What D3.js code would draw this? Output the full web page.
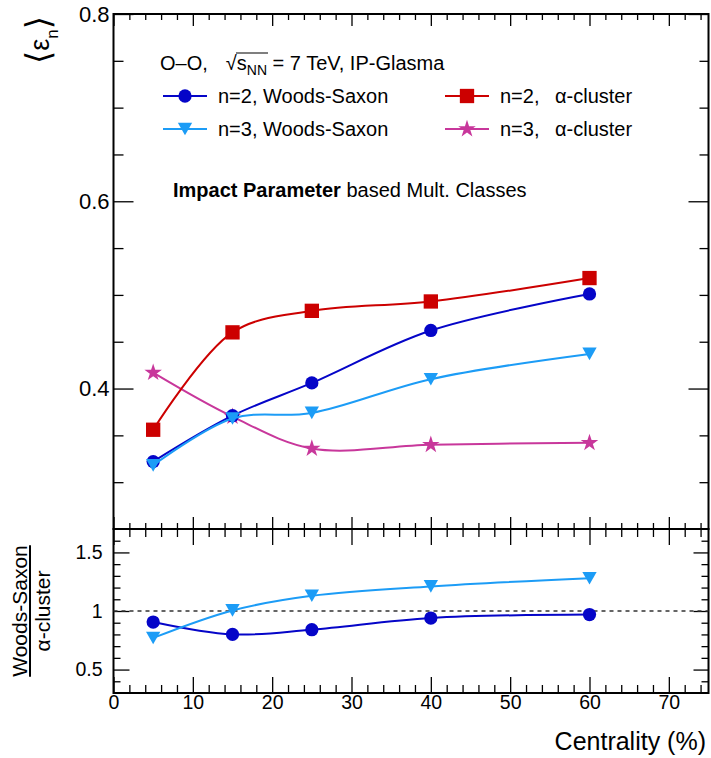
<!DOCTYPE html>
<html><head><meta charset="utf-8">
<script src="https://cdn.jsdelivr.net/npm/d3@7"></script>
<style>
body{margin:0;background:#fff}
svg{display:block}
text{font-family:"Liberation Sans",Arial,Helvetica,sans-serif;fill:#000}
</style>
</head><body>
<svg id="c" width="711" height="758"></svg>
<script>
// ---------------- data ----------------
const centrality      = [5, 15, 25, 40, 60];
const eps2WoodsSaxon  = [0.322, 0.371, 0.406, 0.462, 0.501];
const eps3WoodsSaxon  = [0.318, 0.368, 0.374, 0.410, 0.437];
const eps2Alpha       = [0.356, 0.460, 0.483, 0.493, 0.518];
const eps3Alpha       = [0.417, 0.370, 0.336, 0.340, 0.342];
const ratioN2         = [0.906, 0.800, 0.840, 0.940, 0.970];
const ratioN3         = [0.770, 1.005, 1.130, 1.210, 1.280];

const xMajorTicks     = [0, 10, 20, 30, 40, 50, 60, 70];
const xMinorTicks     = d3.range(2, 75, 2).filter(v => v % 10 !== 0);
const yTopMajorTicks  = [0.4, 0.6, 0.8];
const yTopMinorTicks  = [0.3, 0.35, 0.45, 0.5, 0.55, 0.65, 0.7, 0.75];
const yRatMajorTicks  = [0.5, 1, 1.5];
const yRatMajorLabels = ["0.5", "1", "1.5"];
const yRatMinorTicks  = [0.4, 0.6, 0.7, 0.8, 0.9, 1.1, 1.2, 1.3, 1.4, 1.6];

const legendTitle     = ["O–O,", "√", "s", "NN", " = 7 TeV, IP-Glasma"];
const seriesLabels    = ["n=2, Woods-Saxon", "n=3, Woods-Saxon", "n=2,", "n=3,"];
const clusterLabel    = "α-cluster";

// ---------------- layout ----------------
const svg = d3.select("#c");
const X0 = 113.5, X1 = 708.5, Y0 = 14, YM = 529, Y1 = 693;
const x    = d3.scaleLinear().domain([0, 75]).range([X0, X1]);
const yTop = d3.scaleLinear().domain([0.25, 0.8]).range([YM, Y0]);
const yRat = d3.scaleLinear().domain([0.3, 1.7]).range([Y1, YM]);

const COL = {blue: "#0505c8", red: "#cc0000", azure: "#1c9cf6", magenta: "#c8379b"};

// marker shapes
const downTriangle = {draw(ctx, size) {
  const s = Math.sqrt(size), h = s * 0.88;
  ctx.moveTo(-s / 2, -h / 2); ctx.lineTo(s / 2, -h / 2); ctx.lineTo(0, h / 2); ctx.closePath();
}};
const MK = {
  circle: d3.symbol(d3.symbolCircle, 138)(),
  square: d3.symbol(d3.symbolSquare, 205)(),
  tri:    d3.symbol(downTriangle, 205)(),
  star:   d3.symbol(d3.symbolStar, 95)()
};

function styleAxis(g, fs) {
  g.select(".domain").remove();
  g.selectAll(".tick line").attr("stroke", "#000").attr("stroke-width", 1.3);
  g.selectAll(".tick text").attr("font-size", fs).attr("fill", "#000")
    .style("font-family", '"Liberation Sans",Arial,sans-serif');
}
function axis(gen, tr, fs) {
  const g = svg.append("g").attr("transform", tr).call(gen);
  styleAxis(g, fs);
  return g;
}

// ---------- top panel axes ----------
axis(d3.axisLeft(yTop).tickValues(yTopMinorTicks).tickSize(-10).tickFormat(""), `translate(${X0},0)`, 22);
axis(d3.axisLeft(yTop).tickValues(yTopMajorTicks).tickSize(-20).tickPadding(4).tickFormat(d3.format(".1f")), `translate(${X0},0)`, 22);
axis(d3.axisRight(yTop).tickValues(yTopMinorTicks).tickSize(-9).tickFormat(""), `translate(${X1},0)`, 22);
axis(d3.axisRight(yTop).tickValues(yTopMajorTicks).tickSize(-20).tickFormat(""), `translate(${X1},0)`, 22);
axis(d3.axisTop(x).tickValues(xMinorTicks).tickSize(-6).tickFormat(""), `translate(0,${Y0})`, 20);
axis(d3.axisTop(x).tickValues(xMajorTicks).tickSize(-12).tickFormat(""), `translate(0,${Y0})`, 20);
axis(d3.axisBottom(x).tickValues(xMinorTicks).tickSize(-6).tickFormat(""), `translate(0,${YM})`, 20);
axis(d3.axisBottom(x).tickValues(xMajorTicks).tickSize(-12).tickFormat(""), `translate(0,${YM})`, 20);

// ---------- ratio panel axes ----------
axis(d3.axisLeft(yRat).tickValues(yRatMinorTicks).tickSize(-7).tickFormat(""), `translate(${X0},0)`, 19.5);
axis(d3.axisLeft(yRat).tickValues(yRatMajorTicks).tickSize(-16).tickPadding(11).tickFormat((d, i) => yRatMajorLabels[i]), `translate(${X0},0)`, 19.5);
axis(d3.axisRight(yRat).tickValues(yRatMinorTicks).tickSize(-7).tickFormat(""), `translate(${X1},0)`, 19.5);
axis(d3.axisRight(yRat).tickValues(yRatMajorTicks).tickSize(-15).tickFormat(""), `translate(${X1},0)`, 19.5);
axis(d3.axisTop(x).tickValues(xMinorTicks).tickSize(-8).tickFormat(""), `translate(0,${YM})`, 19.5);
axis(d3.axisTop(x).tickValues(xMajorTicks).tickSize(-16).tickFormat(""), `translate(0,${YM})`, 19.5);
axis(d3.axisBottom(x).tickValues(xMinorTicks).tickSize(-8).tickFormat(""), `translate(0,${Y1})`, 19.5);
axis(d3.axisBottom(x).tickValues(xMajorTicks).tickSize(-16).tickPadding(2).tickFormat(d3.format("d")), `translate(0,${Y1})`, 19.5);

// frames
svg.append("rect").attr("x", X0).attr("y", Y0).attr("width", X1 - X0).attr("height", YM - Y0)
  .attr("fill", "none").attr("stroke", "#000").attr("stroke-width", 2);
svg.append("rect").attr("x", X0).attr("y", YM).attr("width", X1 - X0).attr("height", Y1 - YM)
  .attr("fill", "none").attr("stroke", "#000").attr("stroke-width", 2);

// dashed unity line
svg.append("line").attr("x1", x(0)).attr("x2", x(75)).attr("y1", yRat(1)).attr("y2", yRat(1))
  .attr("stroke", "#333").attr("stroke-width", 1.3).attr("stroke-dasharray", "4,4");

// ---------- series ----------
function series(vals, yScale, color, marker) {
  const pts = centrality.map((c, i) => [x(c), yScale(vals[i])]);
  const line = d3.line().curve(d3.curveCatmullRom.alpha(0.5));
  svg.append("path").attr("d", line(pts)).attr("fill", "none").attr("stroke", color).attr("stroke-width", 2);
  svg.append("g").selectAll("path").data(pts).join("path")
    .attr("d", MK[marker]).attr("transform", d => `translate(${d[0]},${d[1]})`).attr("fill", color);
}
series(eps3Alpha, yTop, COL.magenta, "star");
series(eps2Alpha, yTop, COL.red, "square");
series(eps2WoodsSaxon, yTop, COL.blue, "circle");
series(eps3WoodsSaxon, yTop, COL.azure, "tri");
series(ratioN2, yRat, COL.blue, "circle");
series(ratioN3, yRat, COL.azure, "tri");

// ---------- legend ----------
const t = svg.append("text").attr("x", 160).attr("y", 70).attr("font-size", 20);
t.append("tspan").text(legendTitle[0]);
t.append("tspan").attr("dx", 18).text(legendTitle[1]);
t.append("tspan").text(legendTitle[2]);
t.append("tspan").attr("font-size", 14).attr("dy", 5).text(legendTitle[3]);
t.append("tspan").attr("dy", -5).text(legendTitle[4]);
{
  const n = t.node();
  const rootEx = n.getExtentOfChar(4);
  const nnEnd = n.getEndPositionOfChar(7);
  svg.append("line").attr("x1", rootEx.x + rootEx.width - 0.8).attr("x2", nnEnd.x + 1)
    .attr("y1", 53).attr("y2", 53).attr("stroke", "#000").attr("stroke-width", 1.2);
}

const legendRows = [
  {lx: 163, y: 96,  color: COL.blue,    marker: "circle", label: seriesLabels[0]},
  {lx: 163, y: 129, color: COL.azure,   marker: "tri",    label: seriesLabels[1]},
  {lx: 445, y: 96,  color: COL.red,     marker: "square", label: seriesLabels[2], extra: clusterLabel},
  {lx: 445, y: 129, color: COL.magenta, marker: "star",   label: seriesLabels[3], extra: clusterLabel}
];
legendRows.forEach(r => {
  svg.append("line").attr("x1", r.lx).attr("x2", r.lx + 44).attr("y1", r.y).attr("y2", r.y)
    .attr("stroke", r.color).attr("stroke-width", 2);
  svg.append("path").attr("d", MK[r.marker]).attr("transform", `translate(${r.lx + 22},${r.y})`).attr("fill", r.color);
  const tt = svg.append("text").attr("x", r.lx + 55).attr("y", r.y + 7).attr("font-size", 20);
  tt.append("tspan").text(r.label);
  if (r.extra) tt.append("tspan").attr("x", r.lx + 110).text(r.extra);
});

const ip = svg.append("text").attr("x", 173).attr("y", 197).attr("font-size", 20);
ip.append("tspan").attr("font-weight", "bold").text("Impact Parameter");
ip.append("tspan").text(" based Mult. Classes");

// ---------- axis titles ----------
svg.append("text").attr("x", 706).attr("y", 750).attr("text-anchor", "end").attr("font-size", 25)
  .text("Centrality (%)");

const yt = svg.append("g").attr("transform", "translate(49,40) rotate(-90)")
  .append("text").attr("text-anchor", "middle");
yt.append("tspan").attr("font-size", 34).attr("dy", 1).style("font-family", "DejaVu Sans").text("⟨");
yt.append("tspan").attr("font-size", 27).attr("dy", -1).text("ε");
yt.append("tspan").attr("font-size", 17).attr("dy", 9).text("n");
yt.append("tspan").attr("font-size", 34).attr("dy", -8).style("font-family", "DejaVu Sans").text("⟩");

const rg = svg.append("g").attr("transform", "translate(0,611) rotate(-90)");
const num = rg.append("text").attr("x", 0).attr("y", 27).attr("text-anchor", "middle").attr("font-size", 21).text("Woods-Saxon");
const wNum = num.node().getComputedTextLength();
rg.append("line").attr("x1", -wNum / 2).attr("x2", wNum / 2).attr("y1", 30).attr("y2", 30)
  .attr("stroke", "#000").attr("stroke-width", 2);
rg.append("text").attr("x", 0).attr("y", 50).attr("text-anchor", "middle").attr("font-size", 21).text(clusterLabel);
</script>
</body></html>
